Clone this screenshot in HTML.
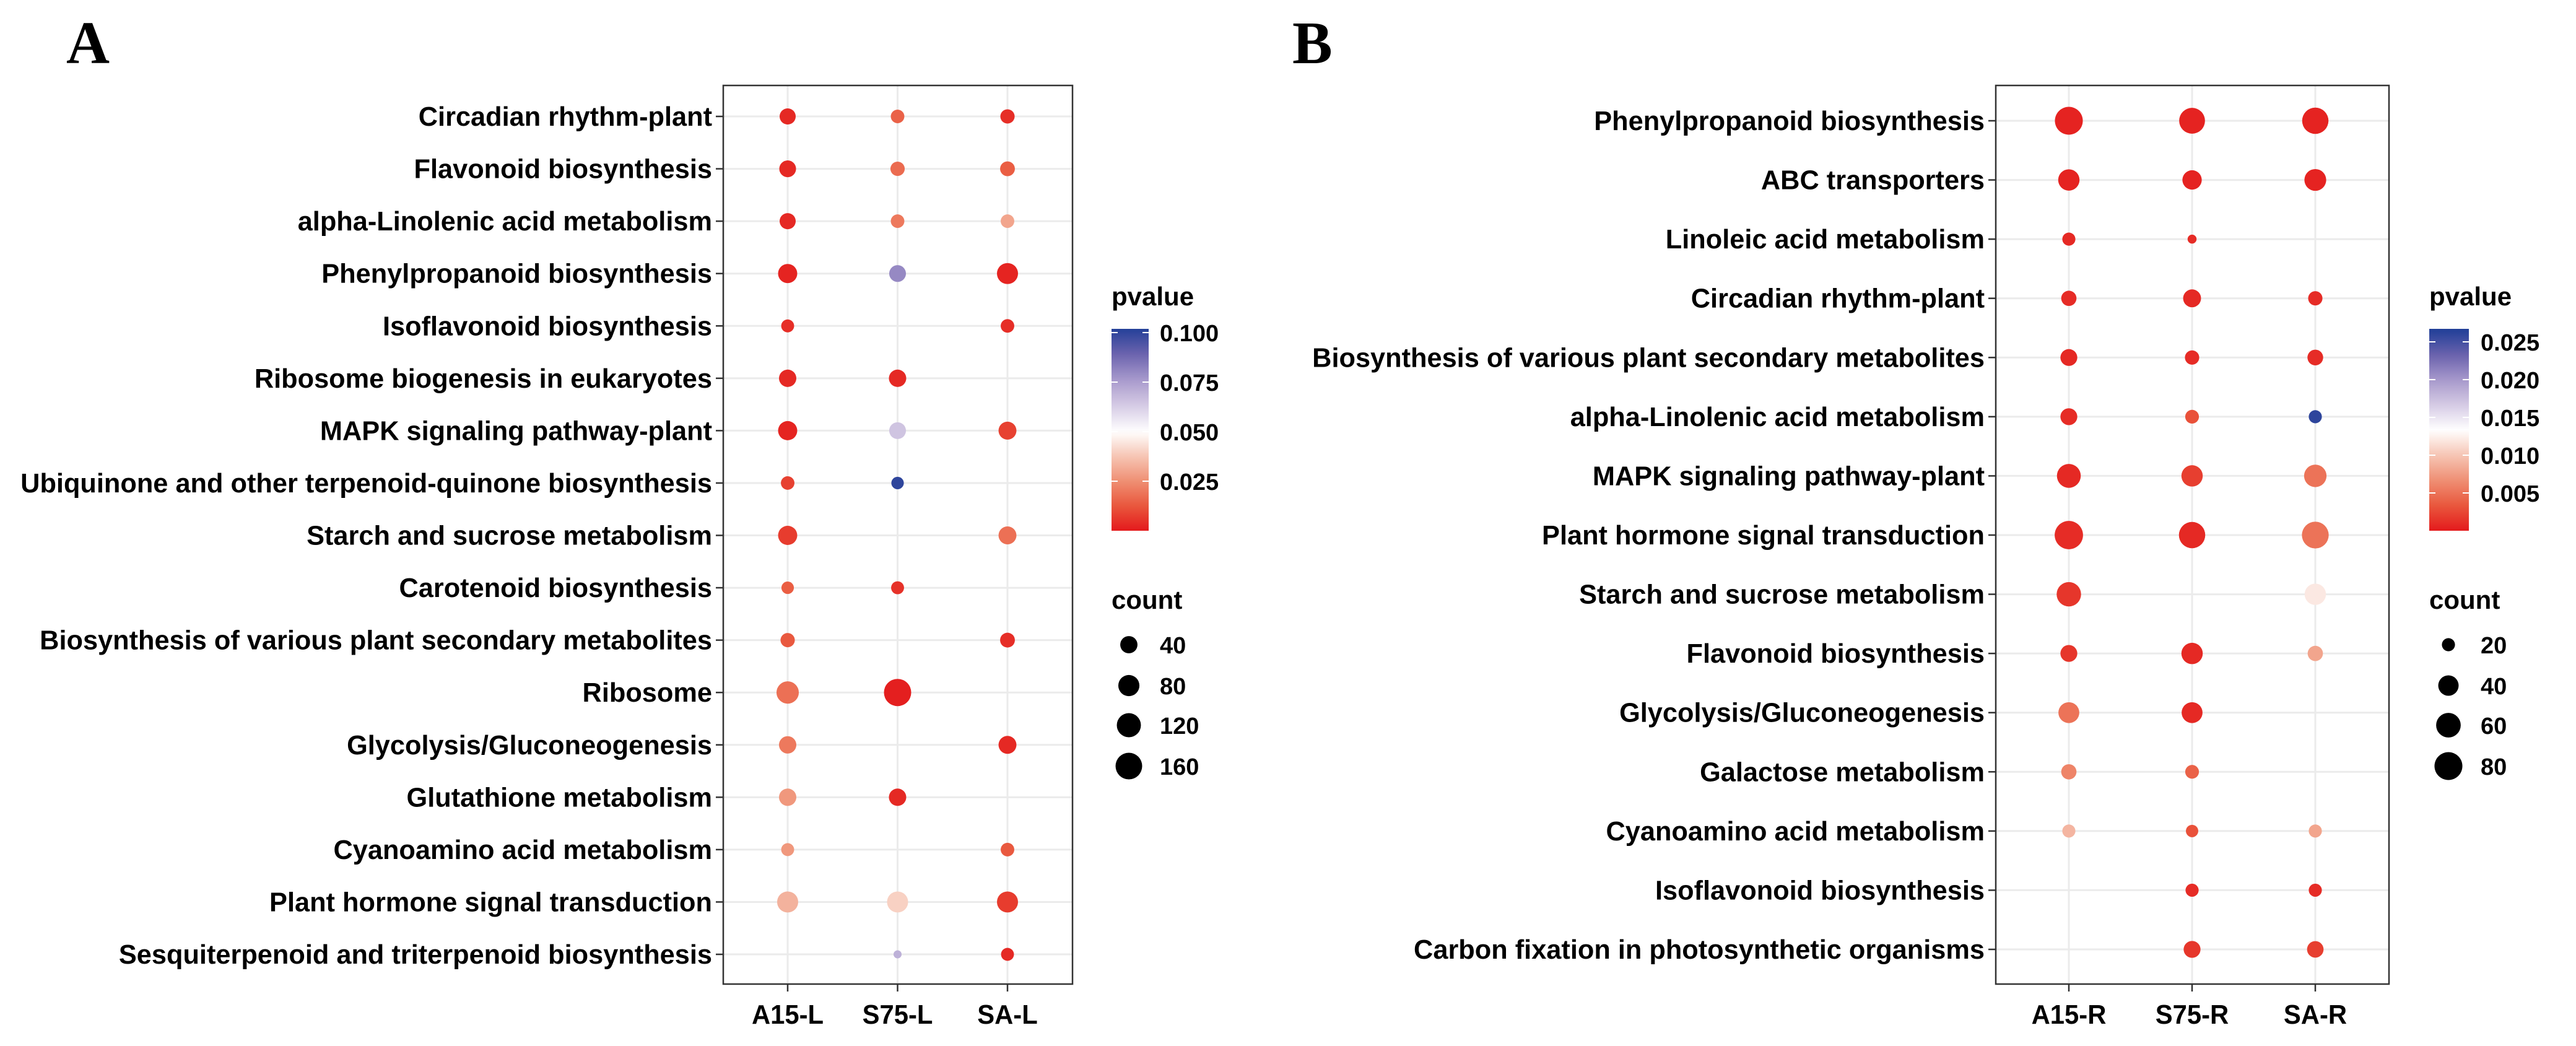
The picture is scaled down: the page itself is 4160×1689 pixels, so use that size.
<!DOCTYPE html>
<html><head><meta charset="utf-8"><style>
html,body{margin:0;padding:0;background:#fff;}
svg{display:block;}
text{font-family:"Liberation Sans",Arial,sans-serif;font-weight:bold;fill:#000;}
</style></head><body>
<svg id="root" xmlns="http://www.w3.org/2000/svg" width="4160" height="1689" viewBox="0 0 4160 1689">
<rect x="0" y="0" width="4160" height="1689" fill="#fff"/>
<text x="107" y="102" style="font-family:'Liberation Serif',serif;font-size:97px;font-weight:bold">A</text>
<text x="2087" y="102" style="font-family:'Liberation Serif',serif;font-size:97px;font-weight:bold">B</text>
<g id="panelA"></g>
<g id="panelB"></g>
</svg>
<script>
// ---------- Panel A data ----------
const catsA = ["Circadian rhythm-plant","Flavonoid biosynthesis","alpha-Linolenic acid metabolism","Phenylpropanoid biosynthesis","Isoflavonoid biosynthesis","Ribosome biogenesis in eukaryotes","MAPK signaling pathway-plant","Ubiquinone and other terpenoid-quinone biosynthesis","Starch and sucrose metabolism","Carotenoid biosynthesis","Biosynthesis of various plant secondary metabolites","Ribosome","Glycolysis/Gluconeogenesis","Glutathione metabolism","Cyanoamino acid metabolism","Plant hormone signal transduction","Sesquiterpenoid and triterpenoid biosynthesis"];
const groupsA = ["A15-L","S75-L","SA-L"];
const countA15L = [31,36,31,58,12,41,58,15,58,10,19,95,41,41,12,79,null];
const countS75L = [15,19,15,36,null,41,36,10,null,12,null,171,null,41,null,79,1];
const countSAL  = [19,22,15,79,15,null,46,null,46,null,22,null,46,null,15,79,12];
const pA15L = [0.003,0.003,0.003,0.002,0.004,0.003,0.002,0.008,0.007,0.014,0.013,0.018,0.02,0.027,0.027,0.033,null];
const pS75L = [0.015,0.017,0.02,0.08,null,0.003,0.065,0.1,null,0.005,null,0.001,null,0.003,null,0.04,0.07];
const pSAL  = [0.004,0.014,0.03,0.002,0.004,null,0.008,null,0.018,null,0.004,null,0.003,null,0.013,0.007,0.003];
const pTicksA = [0.025,0.050,0.075,0.100];
const pTickLabelsA = ["0.025","0.050","0.075","0.100"];
const countTicksA = [40,80,120,160];

// ---------- Panel B data ----------
const catsB = ["Phenylpropanoid biosynthesis","ABC transporters","Linoleic acid metabolism","Circadian rhythm-plant","Biosynthesis of various plant secondary metabolites","alpha-Linolenic acid metabolism","MAPK signaling pathway-plant","Plant hormone signal transduction","Starch and sucrose metabolism","Flavonoid biosynthesis","Glycolysis/Gluconeogenesis","Galactose metabolism","Cyanoamino acid metabolism","Isoflavonoid biosynthesis","Carbon fixation in photosynthetic organisms"];
const groupsB = ["A15-R","S75-R","SA-R"];
const countA15R = [80,44,20,24,28,28,56,83,59,28,42,24,20,null,null];
const countS75R = [67,36,17,31,22,21,44,70,null,44,42,21,19,20,28];
const countSAR  = [70,46,null,22,25,20,49,73,44,24,null,null,20,20,27];
const pA15R = [0.0005,0.0005,0.0008,0.001,0.0008,0.001,0.0008,0.001,0.0015,0.0015,0.005,0.006,0.009,null,null];
const pS75R = [0.0005,0.0005,0.001,0.0008,0.001,0.003,0.002,0.0008,null,0.0008,0.0008,0.004,0.003,0.001,0.0015];
const pSAR  = [0.0005,0.0005,null,0.001,0.001,0.026,0.005,0.005,0.012,0.008,null,null,0.008,0.001,0.002];
const pTicksB = [0.005,0.010,0.015,0.020,0.025];
const pTickLabelsB = ["0.005","0.010","0.015","0.020","0.025"];
const countTicksB = [20,40,60,80];

const NS = "http://www.w3.org/2000/svg";
function mk(tag, attrs, parent){ const e=document.createElementNS(NS,tag); for(const k in attrs) e.setAttribute(k,attrs[k]); parent.appendChild(e); return e; }
const RAMP_LO = [[228,26,28],[233,87,61],[239,143,115],[246,197,180],[255,255,255]];
const RAMP_HI = [[255,255,255],[214,203,229],[167,153,204],[106,98,173],[33,63,152]];
function ramp(stops,t){
  t=Math.max(0,Math.min(1,t));
  const s=t*(stops.length-1); const i=Math.min(stops.length-2,Math.floor(s)); const f=s-i;
  return "rgb("+stops[i].map((v,k)=>Math.round(v+(stops[i+1][k]-v)*f)).join(",")+")";
}

function drawPanel(g, cfg){
  const {cats, groups, counts, pvals, box, colX, rowTop, rowBot, labelRight, pMax, pMid, sz, pTicks, pLabels, cTicks, leg, pName} = cfg;
  const n = cats.length;
  const yScale = i => rowTop + (rowBot-rowTop)*i/(n-1);
  const xScale = j => colX[0] + (colX[2]-colX[0])*j/2;
  const colorScale = p => p<=pMid ? ramp(RAMP_LO,p/pMid) : ramp(RAMP_HI,(p-pMid)/(pMax-pMid));
  const dScale = c => sz.dmin + (sz.dmax-sz.dmin)*Math.sqrt(Math.max(0,(c-sz.cmin)/(sz.cmax-sz.cmin)));
  mk("rect",{x:box.x0,y:box.y0,width:box.x1-box.x0,height:box.y1-box.y0,fill:"#fff"},g);
  for(let i=0;i<n;i++){
    const gl = mk("line",{x1:box.x0,x2:box.x1,y1:yScale(i),y2:yScale(i),stroke:"#ebebeb","stroke-width":3},g);
    
    
  }
  for(let j=0;j<3;j++){
    const gl = mk("line",{y1:box.y0,y2:box.y1,x1:xScale(j),x2:xScale(j),stroke:"#ebebeb","stroke-width":3},g);
    
    
  }
  for(let j=0;j<3;j++){
    for(let i=0;i<n;i++){
      const c = counts[j][i], p = pvals[j][i];
      if(c==null||p==null) continue;
      const d = dScale(c);
      const el = mk("circle",{cx:xScale(j),cy:yScale(i),r:d/2,fill:colorScale(p)},g);
      
      
    }
  }
  const br = mk("rect",{x:box.x0,y:box.y0,width:box.x1-box.x0,height:box.y1-box.y0,fill:"none",stroke:"#333","stroke-width":2.5},g);
  
  
  for(let i=0;i<n;i++){
    const y=yScale(i);
    mk("line",{x1:box.x0-12,x2:box.x0,y1:y,y2:y,stroke:"#333","stroke-width":2.5},g);
    const t = mk("text",{x:0,y:0,"text-anchor":"end","font-size":44,transform:`translate(${labelRight},${y+15}) scale(0.985,1)`},g);
    t.textContent = cats[i];
    
    
  }
  for(let j=0;j<3;j++){
    const x=xScale(j);
    mk("line",{x1:x,x2:x,y1:box.y1,y2:box.y1+12,stroke:"#333","stroke-width":2.5},g);
    const t = mk("text",{x:0,y:0,"text-anchor":"middle","font-size":44,transform:`translate(${x},${box.y1+64}) scale(0.95,1)`},g);
    t.textContent = groups[j];
    
    
  }
  const lt = mk("text",{x:leg.x,y:493,"font-size":42},g);
  lt.textContent="pvalue";
  
  
  const gid = "grad"+pName;
  const defs = mk("defs",{},g);
  const lg = mk("linearGradient",{id:gid,x1:0,y1:1,x2:0,y2:0},defs);
  const barTop=531, barBot=857;
  const legP = y => (barBot-y)/leg.pxPerUnit;
  for(let k=0;k<=40;k++){
    const y = barBot - (barBot-barTop)*k/40;
    mk("stop",{offset:k/40,"stop-color":colorScale(legP(y))},lg);
  }
  const bar = mk("rect",{x:leg.x,y:barTop,width:leg.bw,height:barBot-barTop,fill:`url(#${gid})`},g);
  
  
  pTicks.forEach((p,k)=>{
    const y = barBot - p*leg.pxPerUnit;
    mk("line",{x1:leg.x,x2:leg.x+10,y1:y,y2:y,stroke:"#fff","stroke-width":2},g);
    mk("line",{x1:leg.x+leg.bw-10,x2:leg.x+leg.bw,y1:y,y2:y,stroke:"#fff","stroke-width":2},g);
    const t = mk("text",{x:leg.tx,y:y+14,"font-size":38},g);
    t.textContent = pLabels[k];
    
    
  });
  const ct = mk("text",{x:leg.x,y:983,"font-size":42},g);
  ct.textContent="count";
  
  
  const cy=[1041,1107,1171,1237];
  cTicks.forEach((c,k)=>{
    const d=dScale(c);
    const e = mk("circle",{cx:leg.cx,cy:cy[k],r:d/2,fill:"#000"},g);
    
    
    const t = mk("text",{x:leg.tx,y:cy[k]+14,"font-size":38},g);
    t.textContent = String(c);
    
    
  });
}

drawPanel(document.getElementById("panelA"),{
  cats:catsA, groups:groupsA, counts:[countA15L,countS75L,countSAL], pvals:[pA15L,pS75L,pSAL],
  box:{x0:1168,x1:1732,y0:138,y1:1589}, colX:[1272,1450,1627], rowTop:188, rowBot:1541, labelRight:1150,
  pMax:0.1025, pMid:0.05, sz:{dmin:13,dmax:44,cmin:1,cmax:171},
  pTicks:pTicksA, pLabels:pTickLabelsA, cTicks:countTicksA,
  leg:{x:1795,bw:60,tx:1873,cx:1823,pxPerUnit:3200}, pName:"A"
});
drawPanel(document.getElementById("panelB"),{
  cats:catsB, groups:groupsB, counts:[countA15R,countS75R,countSAR], pvals:[pA15R,pS75R,pSAR],
  box:{x0:3223,x1:3858,y0:138,y1:1589}, colX:[3341,3540,3739], rowTop:195, rowBot:1533, labelRight:3205,
  pMax:0.0266, pMid:0.0133, sz:{dmin:14.5,dmax:46,cmin:17,cmax:84},
  pTicks:pTicksB, pLabels:pTickLabelsB, cTicks:countTicksB,
  leg:{x:3923,bw:64,tx:4006,cx:3954,pxPerUnit:12200}, pName:"B"
});
</script>
</body></html>
